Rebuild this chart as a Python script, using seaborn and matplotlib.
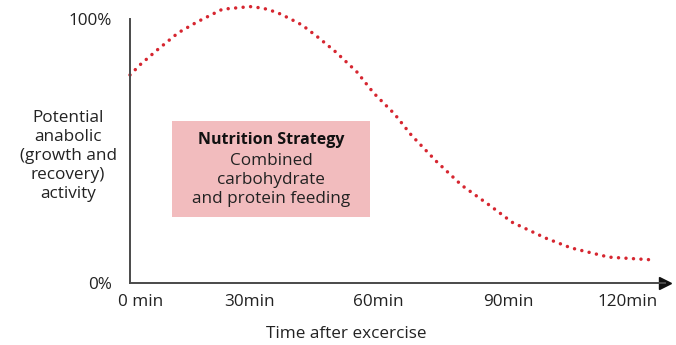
"""
Anabolic window after exercise - dotted response curve
"""

import numpy as np
import pandas as pd
import matplotlib
matplotlib.use('Agg')
import matplotlib.pyplot as plt
import matplotlib.transforms as mtransforms
import seaborn as sns

# Values (minutes after exercise, % of max activity)
minutes = [0, 2.5, 6.5, 11.5, 16, 22, 28.6, 31.7, 35, 38, 41, 45, 49, 54,
           58, 63, 67, 73, 79, 86, 91, 99, 105, 114, 125]
activity = [78.8, 82.8, 88.3, 94.8, 98.9, 103.7, 104.7, 104.1, 102.5, 100.2,
            97.7, 92.8, 87.5, 80, 72, 64, 56, 46, 37, 29, 23, 17, 13.3, 9.8,
            8.7]

tick_minutes = [0, 30, 60, 90, 120]
tick_labels = ['0 min', '30min', '60min', '90min', '120min']
y_ticks = [0, 100]
y_tick_labels = ['0%', '100%']

df = pd.DataFrame({'minutes': minutes, 'activity': activity})

sns.set_style('white')
plt.rcParams['font.family'] = ['Open Sans', 'DejaVu Sans']

fig = plt.figure(figsize=(6.76, 3.45), dpi=100)
ax = fig.add_axes([130 / 676, 62 / 345, 535 / 676, 264 / 345])

red = '#d62630'
axis_col = '#4a4a4a'
txt_col = '#222222'
fs = 12.3

sns.lineplot(data=df, x='minutes', y='activity', ax=ax, color=red,
             linewidth=2.5, linestyle=(0, (0.01, 2.15)),
             dash_capstyle='round', clip_on=False)

ax.set_xlim(0, 127.4)
ax.set_ylim(0, 100)

# Axes styling
for side in ['top', 'right']:
    ax.spines[side].set_visible(False)
for side in ['left', 'bottom']:
    ax.spines[side].set_color(axis_col)
    ax.spines[side].set_linewidth(1.4)

# Arrow head on the time axis
ax.plot(1, 0, marker='>', markersize=9, color='#111111',
        transform=ax.transAxes, clip_on=False)

ax.set_xticks(tick_minutes)
ax.set_xticklabels(tick_labels)
ax.set_yticks(y_ticks)
ax.set_yticklabels(y_tick_labels)
ax.tick_params(axis='both', length=0, labelsize=fs, colors=txt_col)
ax.tick_params(axis='x', pad=8)
ax.tick_params(axis='y', pad=13)

# nudge tick labels to where they sit in the original
shifts = [11, -6, -4, 0, -6]
for lab, dx in zip(ax.get_xticklabels(), shifts):
    lab.set_transform(lab.get_transform() +
                      mtransforms.ScaledTranslation(dx / 100, 0,
                                                    fig.dpi_scale_trans))

ax.set_xlabel('')
ax.set_ylabel('')
fig.text(346 / 676, 1 - 334 / 345, 'Time after excercise', ha='center',
         va='center', fontsize=fs, color=txt_col)
fig.text(68 / 676, 1 - 156 / 345,
         'Potential\nanabolic\n(growth and\nrecovery)\nactivity',
         ha='center', va='center', fontsize=fs, color=txt_col,
         linespacing=1.27)

# Strategy box
box = plt.Rectangle((172 / 676, 1 - 217 / 345), 198 / 676, 96 / 345,
                    transform=fig.transFigure, facecolor='#f2bcbe',
                    edgecolor='none', zorder=0)
fig.patches.append(box)
fig.text(271 / 676, 1 - 140 / 345, 'Nutrition Strategy', ha='center',
         va='center', fontsize=fs - 0.8, fontweight='bold', color='#111111')
fig.text(271 / 676, 1 - 180 / 345,
         'Combined\ncarbohydrate\nand protein feeding', ha='center',
         va='center', fontsize=fs, color=txt_col, linespacing=1.25)

plt.savefig('out.png', dpi=100)
